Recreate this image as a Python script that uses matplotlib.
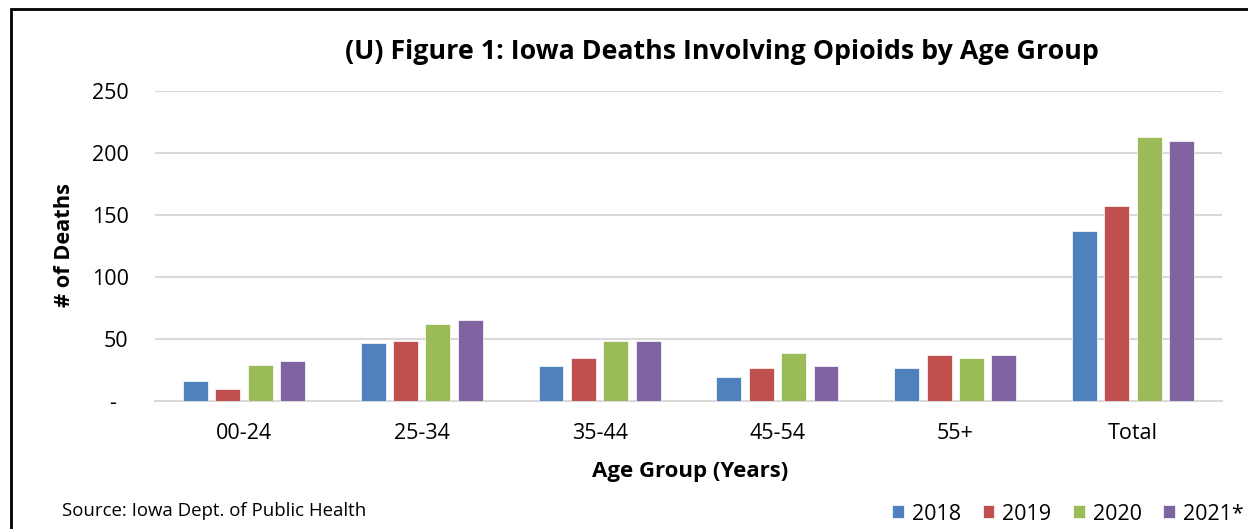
import matplotlib
matplotlib.use("Agg")
import matplotlib.pyplot as plt
import numpy as np
from matplotlib.patches import Rectangle

categories = ["00-24", "25-34", "35-44", "45-54", "55+", "Total"]
series_names = ["2018", "2019", "2020", "2021*"]
v2018 = [16, 47, 28, 19, 27, 137]
v2019 = [10, 48, 35, 27, 37, 157]
v2020 = [29, 62, 48, 39, 35, 213]
v2021 = [32, 65, 48, 28, 37, 210]
yticks = [0, 50, 100, 150, 200, 250]
ytick_labels = ["-  ", "50", "100", "150", "200", "250"]
colors = ["#4f81bd", "#c0504d", "#9bbb59", "#8064a2"]

plt.rcParams['font.family'] = ['Open Sans', 'DejaVu Sans']

fig = plt.figure(figsize=(12.48, 5.29), dpi=100)
ax = fig.add_axes([155/1248, 1-401/529, (1222-155)/1248, (401-91)/529])

x = np.arange(len(categories))
w = 0.14
step = 0.182
for i, (vals, c, name) in enumerate(zip([v2018, v2019, v2020, v2021], colors, series_names)):
    ax.bar(x + (i - 1.5) * step, vals, width=w, color=c, label=name, zorder=3,
           edgecolor='white', linewidth=0.5)

ax.set_xlim(-0.5, len(categories) - 0.5)
ax.set_ylim(0, 250)
ax.set_yticks(yticks)
ax.set_yticklabels(ytick_labels)
ax.set_xticks(x)
ax.set_xticklabels(categories)
ax.tick_params(axis='both', length=0, labelsize=15.5, colors='#000000')
ax.tick_params(axis='y', pad=19)
ax.tick_params(axis='x', pad=16)
ax.grid(axis='y', color='#d9d9d9', linewidth=1.5, zorder=0)
for s in ['top', 'right', 'left']:
    ax.spines[s].set_visible(False)
ax.spines['bottom'].set_color('#d9d9d9')
ax.spines['bottom'].set_linewidth(1.5)

fig.text(722/1248, 1-52/529, "(U) Figure 1: Iowa Deaths Involving Opioids by Age Group",
         ha='center', va='center', fontsize=19.3, fontweight='bold')
fig.text(65/1248, 1-245/529, "# of Deaths", ha='center', va='center', rotation=90,
         fontsize=15.7, fontweight='bold')
fig.text(690/1248, 1-472/529, "Age Group (Years)", ha='center', va='center',
         fontsize=16, fontweight='bold')
fig.text(62/1248, 1-511/529, "Source: Iowa Dept. of Public Health", ha='left', va='center',
         fontsize=13.4)

fig.legend(loc='center', bbox_to_anchor=(1068/1248, 1-514/529), ncol=4, frameon=False,
           fontsize=15.5, handlelength=0.55, handleheight=0.55, handletextpad=0.37,
           columnspacing=1.0, borderpad=0.0)

# border
fig.patches.append(Rectangle((11/1248, -0.05), 1.1, 1 - 9/529 + 0.05, transform=fig.transFigure,
                             fill=False, edgecolor='black', linewidth=2))

fig.savefig("out.png", dpi=100)
